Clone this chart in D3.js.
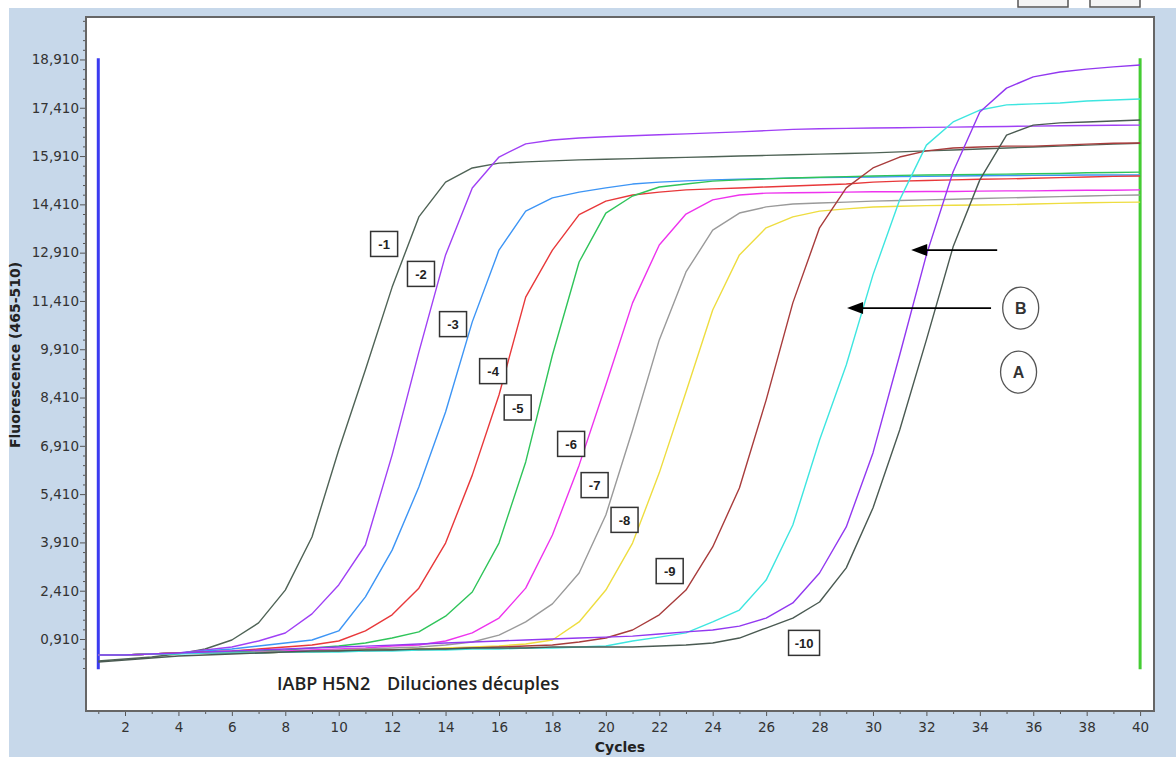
<!DOCTYPE html>
<html>
<head>
<meta charset="utf-8">
<script src="https://cdn.jsdelivr.net/npm/d3@7"></script>
<style>
  body { margin: 0; background: #fff; }
  svg { display: block; }
</style>
</head>
<body>
<svg id="chart" width="1176" height="759"></svg>
<script>
// Amplification curves, IABP H5N2 ten-fold dilutions (fluorescence 465-510 per cycle)
var cycles = d3.range(1, 41);

var dil1 = [227, 289, 351, 450, 600, 880, 1410, 2430, 4080, 6780, 9270, 11840, 14020, 15100, 15540, 15690, 15730, 15760, 15790, 15810,
            15830, 15850, 15870, 15890, 15910, 15930, 15950, 15970, 15990, 16010, 16040, 16070, 16100, 16130, 16160, 16190, 16220, 16250, 16280, 16310];
var dil2 = [413, 413, 444, 475, 568, 661, 848, 1096, 1690, 2590, 3830, 6630, 9820, 12840, 14920, 15880, 16290, 16410, 16470, 16510,
            16540, 16570, 16600, 16630, 16660, 16700, 16740, 16760, 16770, 16780, 16790, 16800, 16810, 16820, 16830, 16840, 16850, 16860, 16865, 16870];
var dil3 = [413, 413, 444, 475, 537, 599, 693, 786, 880, 1160, 2220, 3670, 5630, 7960, 10760, 12990, 14200, 14610, 14790, 14920,
            15040, 15100, 15140, 15170, 15190, 15210, 15230, 15240, 15250, 15260, 15270, 15280, 15290, 15300, 15305, 15310, 15315, 15320, 15320, 15320];
var dil4 = [413, 413, 444, 475, 506, 537, 599, 661, 724, 848, 1160, 1660, 2490, 3890, 6000, 8490, 11530, 12990, 14090, 14510,
            14700, 14790, 14860, 14890, 14920, 14950, 14980, 15010, 15040, 15100, 15130, 15150, 15170, 15190, 15200, 15220, 15240, 15260, 15280, 15290];
var dil5 = [413, 413, 444, 475, 475, 506, 537, 568, 630, 693, 786, 940, 1130, 1620, 2370, 3890, 6410, 9730, 12620, 14140,
            14670, 14950, 15040, 15130, 15170, 15200, 15230, 15250, 15270, 15290, 15310, 15320, 15330, 15340, 15350, 15360, 15370, 15390, 15400, 15410];
var dil6 = [413, 413, 444, 475, 475, 475, 506, 537, 568, 599, 630, 693, 724, 848, 1100, 1560, 2490, 4140, 6310, 8800,
            11350, 13150, 14110, 14550, 14700, 14760, 14770, 14780, 14790, 14800, 14800, 14810, 14810, 14820, 14830, 14830, 14840, 14850, 14850, 14860];
var dil7 = [413, 413, 444, 475, 475, 475, 506, 506, 537, 568, 599, 630, 661, 724, 817, 1030, 1440, 2000, 2960, 4760,
            7400, 10200, 12310, 13610, 14140, 14330, 14420, 14450, 14480, 14510, 14530, 14550, 14570, 14590, 14610, 14630, 14650, 14670, 14690, 14700];
var dil8 = [413, 413, 444, 475, 475, 475, 475, 506, 506, 537, 568, 568, 599, 630, 661, 693, 755, 880, 1440, 2430,
            3890, 6070, 8580, 11130, 12840, 13680, 14020, 14200, 14270, 14330, 14350, 14370, 14380, 14390, 14400, 14420, 14440, 14460, 14470, 14480];
var dil9 = [413, 413, 444, 475, 475, 475, 475, 506, 506, 537, 537, 568, 568, 599, 630, 661, 693, 724, 817, 940,
            1190, 1660, 2430, 3770, 5600, 8330, 11350, 13680, 14920, 15540, 15880, 16070, 16160, 16190, 16220, 16220, 16250, 16280, 16310, 16315];
var lateCyan = [413, 413, 444, 444, 475, 475, 475, 506, 506, 506, 537, 537, 568, 568, 599, 599, 630, 630, 661, 693,
            848, 970, 1100, 1440, 1810, 2740, 4450, 7090, 9420, 12220, 14550, 16250, 16970, 17340, 17500, 17530, 17560, 17620, 17650, 17680];
var lateViolet = [413, 413, 444, 475, 506, 537, 568, 600, 630, 660, 690, 720, 755, 785, 815, 850, 880, 910, 940, 970,
            1000, 1065, 1130, 1190, 1310, 1560, 2030, 2960, 4390, 6690, 9730, 12840, 15420, 17280, 18020, 18370, 18520, 18610, 18680, 18740];
var dil10 = [196, 258, 320, 382, 413, 444, 475, 506, 537, 537, 568, 568, 599, 599, 630, 630, 630, 661, 661, 661,
            661, 693, 724, 786, 940, 1250, 1560, 2060, 3120, 4980, 7400, 10200, 13090, 15170, 16560, 16870, 16940, 16970, 17000, 17030];

var seriesValues = [dil1, dil2, dil3, dil4, dil5, dil6, dil7, dil8, dil9, lateCyan, lateViolet, dil10];
var seriesColors = ['#4f6356', '#a040f5', '#3d95f5', '#e8383a', '#2fc45a', '#ee33ee',
                    '#9a9a9a', '#eedd40', '#a83c3c', '#3ee6e0', '#9238f0', '#4a5a52'];

// Axis ticks
var xTicks = [2, 4, 6, 8, 10, 12, 14, 16, 18, 20, 22, 24, 26, 28, 30, 32, 34, 36, 38, 40];
var yTicks = [910, 2410, 3910, 5410, 6910, 8410, 9910, 11410, 12910, 14410, 15910, 17410, 18910];
var yTickLabels = ['0,910', '2,410', '3,910', '5,410', '6,910', '8,410', '9,910',
                   '11,410', '12,910', '14,410', '15,910', '17,410', '18,910'];

// Dilution labels, anchored at (cycle, fluorescence)
var labelNames = ['-1', '-2', '-3', '-4', '-5', '-6', '-7', '-8', '-9', '-10'];
var labelCycles = [11.70, 13.08, 14.28, 15.78, 16.70, 18.70, 19.58, 20.70, 22.39, 27.42];
var labelFluor = [13180, 12250, 10690, 9230, 8100, 6970, 5690, 4610, 3020, 790];

// Arrows (from cycle -> to cycle, at fluorescence) and circled letters
var arrowFrom = [34.65, 34.42];
var arrowTo = [31.43, 29.03];
var arrowFluor = [12990, 11190];
var circleNames = ['B', 'A'];
var circleCycles = [35.53, 35.45];
var circleFluor = [11190, 9200];

// Cycle markers (start / end of run)
var markerCycles = [1, 40];
var markerColors = ['#3b3bf0', '#44cc33'];
var markerRange = [-30, 18950];

var svg = d3.select('#chart');
var plot = { left: 86, top: 17, right: 1154, bottom: 711 };

var x = d3.scaleLinear().domain([0.54, 40.52]).range([plot.left, plot.right]);
var y = d3.scaleLinear().domain([-1326, 20229]).range([plot.bottom, plot.top]);

// Window background
svg.append('rect')
  .attr('x', 9).attr('y', 8)
  .attr('width', 1167).attr('height', 749)
  .attr('fill', '#c7d8ea');

// Two tab outlines peeking at the top right
[[1018, 1068], [1090, 1140]].forEach(function(t) {
  svg.append('rect')
    .attr('x', t[0]).attr('y', -6)
    .attr('width', t[1] - t[0]).attr('height', 13)
    .attr('fill', '#f4f4f4')
    .attr('stroke', '#555')
    .attr('stroke-width', 1.5);
});

svg.append('rect')
  .attr('x', plot.left).attr('y', plot.top)
  .attr('width', plot.right - plot.left).attr('height', plot.bottom - plot.top)
  .attr('fill', '#fff');

svg.append('clipPath').attr('id', 'clip')
  .append('rect')
  .attr('x', plot.left).attr('y', plot.top)
  .attr('width', plot.right - plot.left).attr('height', plot.bottom - plot.top);

// Axes
var minorY = d3.range(10, 20200, 300).filter(function(v) { return yTicks.indexOf(v) < 0; });
var minorX = d3.range(1, 41, 2);

function styleAxis(g) {
  g.select('.domain').remove();
  g.selectAll('line').attr('stroke', '#555');
  g.selectAll('text')
    .attr('fill', '#333')
    .style('font-family', 'DejaVu Sans, Verdana, sans-serif')
    .style('font-size', '13.5px');
}

svg.append('g')
  .attr('transform', 'translate(' + plot.left + ',0)')
  .call(d3.axisLeft(y).tickValues(minorY).tickSize(3).tickFormat(''))
  .call(styleAxis);
svg.append('g')
  .attr('transform', 'translate(' + plot.left + ',0)')
  .call(d3.axisLeft(y).tickValues(yTicks).tickSize(6).tickPadding(1)
          .tickFormat(function(d, i) { return yTickLabels[i]; }))
  .call(styleAxis);

svg.append('g')
  .attr('transform', 'translate(0,' + plot.bottom + ')')
  .call(d3.axisBottom(x).tickValues(minorX).tickSize(3).tickFormat(''))
  .call(styleAxis);
svg.append('g')
  .attr('transform', 'translate(0,' + plot.bottom + ')')
  .call(d3.axisBottom(x).tickValues(xTicks).tickSize(5).tickPadding(6))
  .call(styleAxis);

// Frame
svg.append('rect')
  .attr('x', plot.left).attr('y', plot.top)
  .attr('width', plot.right - plot.left).attr('height', plot.bottom - plot.top)
  .attr('fill', 'none')
  .attr('stroke', '#666')
  .attr('stroke-width', 2);

// Axis titles
svg.append('text')
  .attr('x', (plot.left + plot.right) / 2)
  .attr('y', 752)
  .attr('text-anchor', 'middle')
  .style('font-family', 'DejaVu Sans, Verdana, sans-serif')
  .style('font-size', '14px')
  .style('font-weight', 'bold')
  .attr('fill', '#222')
  .text('Cycles');

svg.append('text')
  .attr('transform', 'translate(20,355) rotate(-90)')
  .attr('text-anchor', 'middle')
  .style('font-family', 'DejaVu Sans, Verdana, sans-serif')
  .style('font-size', '14px')
  .style('font-weight', 'bold')
  .attr('fill', '#222')
  .text('Fluorescence (465-510)');

var chart = svg.append('g').attr('clip-path', 'url(#clip)');

// Run markers
markerCycles.forEach(function(c, i) {
  chart.append('line')
    .attr('x1', x(c)).attr('x2', x(c))
    .attr('y1', y(markerRange[0])).attr('y2', y(markerRange[1]))
    .attr('stroke', markerColors[i])
    .attr('stroke-width', 3);
});

// Curves
var line = d3.line()
  .x(function(d) { return x(d.c); })
  .y(function(d) { return y(d.v); });

seriesValues.forEach(function(vals, i) {
  var pts = vals.map(function(v, k) { return { c: cycles[k], v: v }; });
  chart.append('path')
    .datum(pts)
    .attr('d', line)
    .attr('fill', 'none')
    .attr('stroke', seriesColors[i])
    .attr('stroke-width', 1.4)
    .attr('stroke-linejoin', 'round');
});

// Dilution label boxes
labelNames.forEach(function(name, i) {
  var cx = x(labelCycles[i]), cy = y(labelFluor[i]);
  var w = name.length > 2 ? 31 : 27, h = 25;
  chart.append('rect')
    .attr('x', cx - w / 2).attr('y', cy - h / 2)
    .attr('width', w).attr('height', h)
    .attr('fill', '#fff')
    .attr('stroke', '#333')
    .attr('stroke-width', 1.5);
  chart.append('text')
    .attr('x', cx).attr('y', cy + 5)
    .attr('text-anchor', 'middle')
    .style('font-family', 'Liberation Sans, Arial, sans-serif')
    .style('font-size', '13px')
    .style('font-weight', 'bold')
    .attr('fill', '#222')
    .text(name);
});

// Arrows
arrowFrom.forEach(function(c, i) {
  var x0 = x(c), x1 = x(arrowTo[i]), yy = y(arrowFluor[i]);
  chart.append('line')
    .attr('x1', x0).attr('x2', x1 + 10)
    .attr('y1', yy).attr('y2', yy)
    .attr('stroke', '#000')
    .attr('stroke-width', 1.8);
  chart.append('path')
    .attr('d', 'M' + x1 + ',' + yy + 'L' + (x1 + 16) + ',' + (yy - 6) + 'L' + (x1 + 16) + ',' + (yy + 6) + 'Z')
    .attr('fill', '#000');
});

// Circled letters
circleNames.forEach(function(name, i) {
  var cx = x(circleCycles[i]), cy = y(circleFluor[i]);
  chart.append('ellipse')
    .attr('cx', cx).attr('cy', cy)
    .attr('rx', 18).attr('ry', 21)
    .attr('fill', '#fff')
    .attr('stroke', '#555')
    .attr('stroke-width', 1.3);
  chart.append('text')
    .attr('x', cx).attr('y', cy + 6)
    .attr('text-anchor', 'middle')
    .style('font-family', 'Liberation Sans, Arial, sans-serif')
    .style('font-size', '16px')
    .style('font-weight', 'bold')
    .attr('fill', '#333')
    .text(name);
});

// Caption inside the plot
svg.append('text')
  .attr('x', 277).attr('y', 690)
  .style('font-family', 'Open Sans, sans-serif')
  .style('font-size', '18px')
  .style('font-weight', '600')
  .attr('fill', '#222')
  .text('IABP H5N2');
svg.append('text')
  .attr('x', 387).attr('y', 690)
  .style('font-family', 'Open Sans, sans-serif')
  .style('font-size', '18px')
  .style('font-weight', '600')
  .attr('fill', '#222')
  .text('Diluciones décuples');
</script>
</body>
</html>
